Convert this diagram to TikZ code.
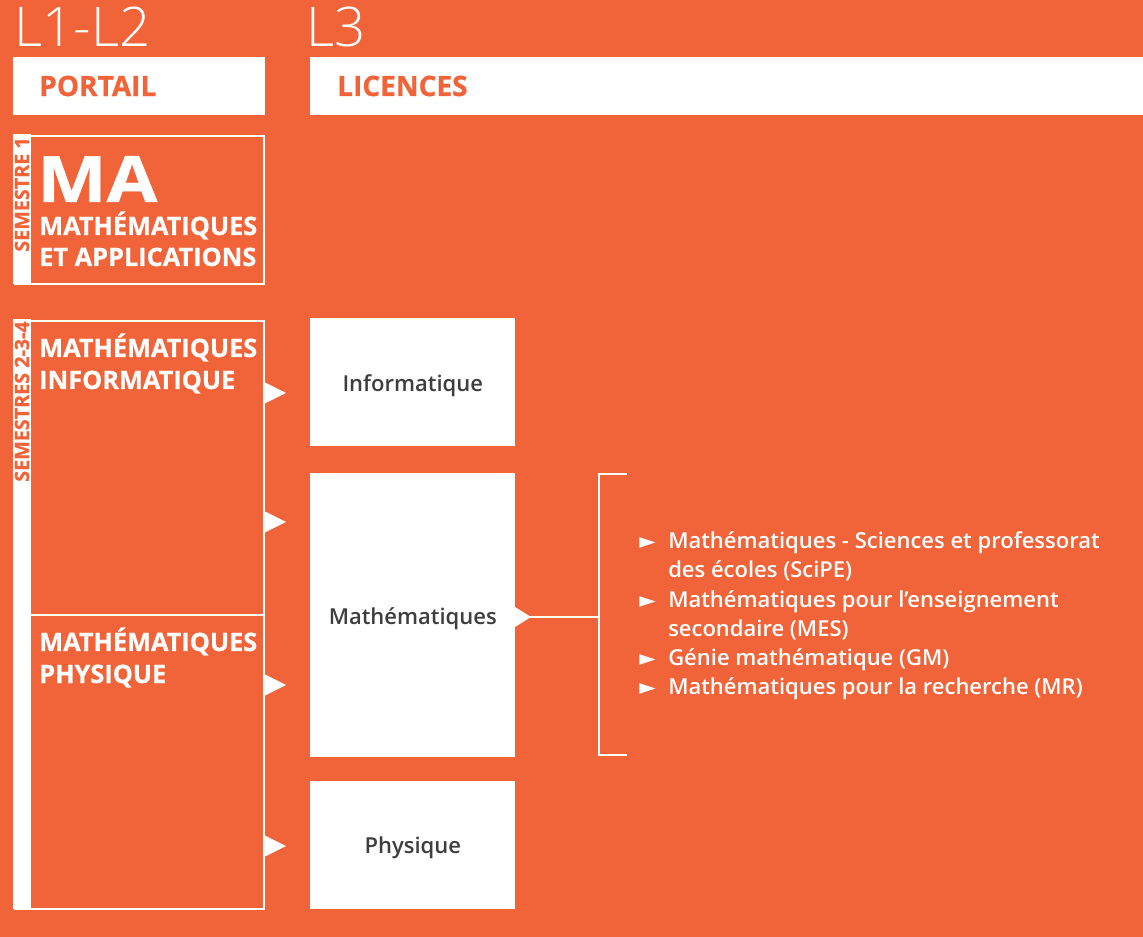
\documentclass[tikz,border=0pt]{standalone}
\usepackage{fontspec}
\setmainfont{Open Sans}
\newfontfamily\grasfont{Open Sans}[BoldFeatures={FakeBold=0.7}]
\newfontfamily\largefont{Open Sans}[BoldFeatures={FakeBold=0.7, FakeStretch=1.15}]
\IfFontExistsTF{Open Sans Semibold}
  {\newfontfamily\demifont{Open Sans Semibold}}
  {\newfontfamily\demifont{Open Sans}}
\IfFontExistsTF{Open Sans Light}
  {\newfontfamily\legerfont{Open Sans Light}}
  {\newfontfamily\legerfont{Open Sans}}
\newfontfamily\symbfont{DejaVu Sans}
\usetikzlibrary{positioning}
\definecolor{fondorange}{RGB}{241,99,56}
\definecolor{textgris}{RGB}{62,62,62}

\tikzset{
  boite/.style={fill=white, inner sep=0pt, anchor=north west},
  cadre/.style={draw=white, line width=1.5pt, inner sep=0pt, anchor=north west},
  bande/.style={fill=white, inner sep=0pt, anchor=north west, minimum width=13.5pt},
  niveau/.style={text=white, anchor=base west, inner sep=0pt, font=\legerfont\fontsize{41}{41}\selectfont},
  entete/.style={text=fondorange, anchor=west, inner sep=0pt, font=\grasfont\bfseries\fontsize{21}{21}\selectfont},
  semestre/.style={text=fondorange, rotate=90, inner sep=0pt, font=\grasfont\bfseries\fontsize{14.8}{14.8}\selectfont},
  parcours/.style={text=white, anchor=base west, inner sep=0pt, font=\grasfont\bfseries\fontsize{19}{19}\selectfont},
  licence/.style={text=textgris, yshift=-2.25pt, font=\demifont\fontsize{16.5}{16.5}\selectfont},
  liste/.style={text=white, anchor=base west, inner sep=0pt, font=\demifont\fontsize{16.5}{16.5}\selectfont},
  fleche/.style={fill=white},
}

\begin{document}
\begin{tikzpicture}[x=0.75pt,y=0.75pt,yscale=-1,xscale=1]
\fill[fondorange] (0,0) rectangle (1143,937);
\useasboundingbox (0,0) rectangle (1143,937);

% Text Node
\node[niveau] (niv1) at (14,47) {L1-L2};
\node[niveau] (niv3) at (306,47) {L3};

%Shape: Rectangle
\node[boite, minimum width=189pt, minimum height=43.5pt] (portail) at (13,57) {};
\node[boite, minimum width=624.75pt, minimum height=43.5pt] (licences) at (310,57) {};
% Text Node
\node[entete] (tportail) at (39,86) {PORTAIL};
\node[entete] (tlicences) at (337,86) {LICENCES};

%Shape: Rectangle (semestre 1)
\node[cadre, minimum width=186.75pt, minimum height=111pt] (sem1) at (14,135) {};
\node[bande, minimum height=112.5pt] (bande1) at (13,134) {};
\node[semestre] (tsem1) at (22,194.5) {SEMESTRE 1};
\node[parcours, font=\largefont\bfseries\fontsize{48}{48}\selectfont] (ma) at (37,202) {MA};
\node[parcours] (ma1) at (39,235) {MATHÉMATIQUES};
\node[parcours] (ma2) at (39,266) {ET APPLICATIONS};

%Shape: Rectangle (semestres 2-3-4)
\node[cadre, minimum width=186.75pt, minimum height=441pt] (sem2) at (14,320) {};
\node[bande, minimum height=442.5pt] (bande2) at (13,319) {};
\node[semestre] (tsem2) at (22,401.5) {SEMESTRES 2-3-4};
\coordinate (sep) at (31,615);
\draw[white, line width=1.5pt] (sep) -- (sep -| sem2.east);
\node[parcours] (mi1) at (39,357) {MATHÉMATIQUES};
\node[parcours] (mi2) at (39,389) {INFORMATIQUE};
\node[parcours] (mp1) at (39,651) {MATHÉMATIQUES};
\node[parcours] (mp2) at (39,683) {PHYSIQUE};

%Shape: Triangle
\foreach \y in {393,522,685,846}
  \fill[fleche] (264,\y-11) -- (286,\y) -- (264,\y+11) -- cycle;

%Shape: Rectangle (licences)
\node[boite, minimum width=153.75pt, minimum height=96pt] (info) at (310,318) {};
\node[licence] at (info.center) {Informatique};
\node[boite, minimum width=153.75pt, minimum height=213pt] (maths) at (310,473) {};
\node[licence] at (maths.center) {Mathématiques};
\node[boite, minimum width=153.75pt, minimum height=96pt] (phys) at (310,781) {};
\node[licence] at (phys.center) {Physique};

%Straight Lines (accolade)
\fill[fleche] (515,607) -- (531,617) -- (515,627) -- cycle;
\coordinate (acc) at (599,617);
\coordinate (acchaut) at (627,474);
\coordinate (accbas) at (627,755);
\draw[white, line width=2pt] (maths.east |- acc) -- (acc);
\draw[white, line width=2pt] (acchaut) -| (acc) |- (accbas);

% Text Node
\foreach \y/\puce/\txt in {549/1/{Mathématiques - Sciences et professorat},
    578/0/{des écoles (SciPE)},
    608/1/{Mathématiques pour l’enseignement},
    637/0/{secondaire (MES)},
    666/1/{Génie mathématique (GM)},
    695/1/{Mathématiques pour la recherche (MR)}}{
  \ifnum\puce=1
    \node[liste, font=\symbfont\fontsize{16}{16}\selectfont] at (639,\y) {►};
  \fi
  \node[liste] at (668,\y) {\txt};
}

\end{tikzpicture}
\end{document}
